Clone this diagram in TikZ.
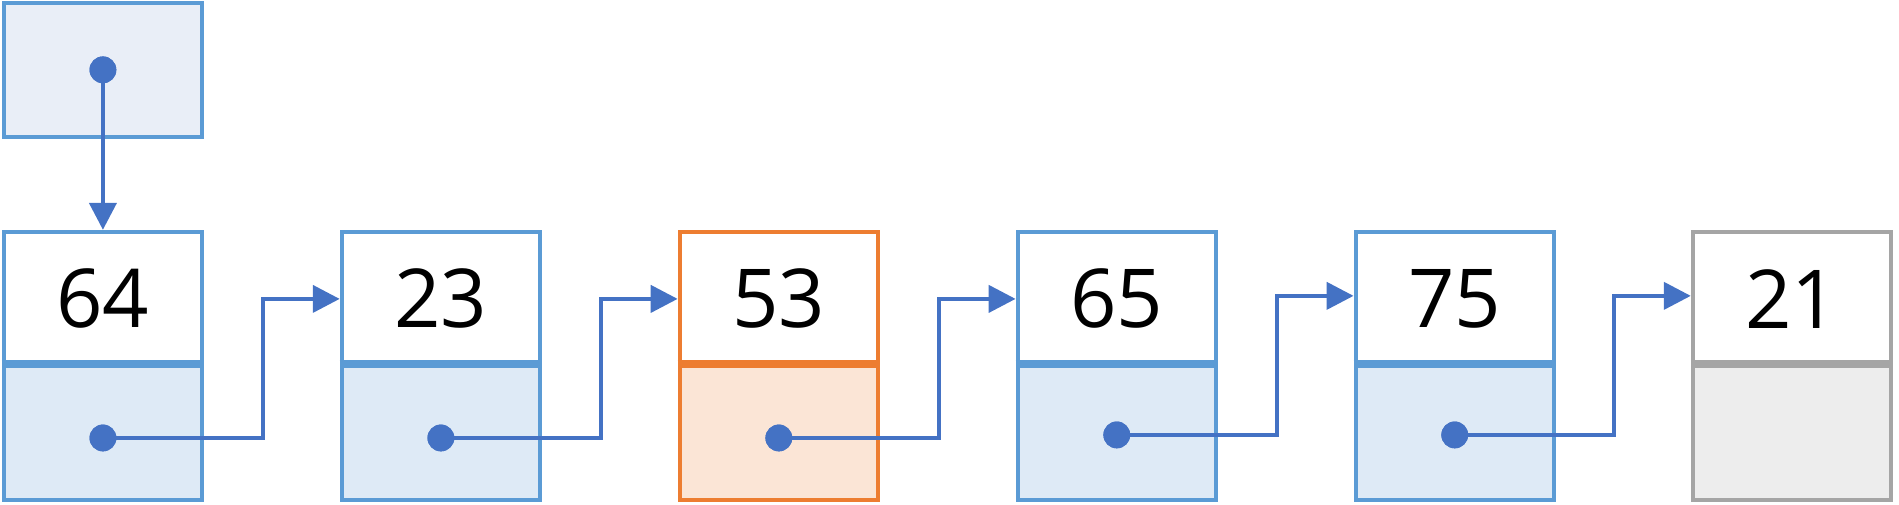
\documentclass[tikz,border=0pt]{standalone}
\usepackage{fontspec}
\setmainfont{Open Sans}
\usetikzlibrary{arrows.meta,calc}
\definecolor{bblue}{HTML}{5B9BD5}
\definecolor{bfill}{HTML}{DEEAF6}
\definecolor{hfill}{HTML}{E9EEF7}
\definecolor{oline}{HTML}{ED7D31}
\definecolor{ofill}{HTML}{FBE5D6}
\definecolor{gline}{HTML}{A5A5A5}
\definecolor{gfill}{HTML}{EDEDED}
\definecolor{conc}{HTML}{4472C4}
\begin{document}
\begin{tikzpicture}[x=0.01cm,y=-0.01cm,
  cell/.style={draw, line width=1pt, minimum width=1.627cm, minimum height=1.10cm, inner sep=0pt, anchor=center, font=\fontsize{19}{23}\selectfont},
  bluecell/.style={cell, draw=bblue},
  orangecell/.style={cell, draw=oline},
  graycell/.style={cell, draw=gline},
  dot/.style={circle, fill=conc, inner sep=0pt, minimum size=0.22cm},
  conn/.style={draw=conc, line width=1pt, -{Triangle[length=6.3pt,width=6.3pt]}},
  divider/.style={line width=1.7pt}]
\useasboundingbox (0,0) rectangle (1561,415);
% head
\node[bluecell, fill=hfill] (head) at (84.6,57.4) {};
% list nodes
\node[bluecell, fill=white] (v1) at (84.6,245.7) {64};
\node[bluecell, fill=bfill] (p1) at (84.6,355.7) {};
\node[bluecell, fill=white] (v2) at (362.4,245.7) {23};
\node[bluecell, fill=bfill] (p2) at (362.4,355.7) {};
\node[orangecell, fill=white] (v3) at (640.2,245.7) {53};
\node[orangecell, fill=ofill] (p3) at (640.2,355.7) {};
\node[bluecell, fill=white] (v4) at (918.0,245.7) {65};
\node[bluecell, fill=bfill] (p4) at (918.0,355.7) {};
\node[bluecell, fill=white] (v5) at (1195.8,245.7) {75};
\node[bluecell, fill=bfill] (p5) at (1195.8,355.7) {};
\node[graycell, fill=white] (v6) at (1473,245.7) {21};
\node[graycell, fill=gfill] (p6) at (1473,355.7) {};
% dividers
\draw[divider, bblue] (p1.north west) -- (p1.north east);
\draw[divider, bblue] (p2.north west) -- (p2.north east);
\draw[divider, oline] (p3.north west) -- (p3.north east);
\draw[divider, bblue] (p4.north west) -- (p4.north east);
\draw[divider, bblue] (p5.north west) -- (p5.north east);
\draw[divider, gline] (p6.north west) -- (p6.north east);
% head pointer
\node[dot] (d0) at (head.center) {};
\draw[conn] (d0.center) -- (v1.north);
\node[dot] at (d0) {};
% arrow targets
\coordinate (t2) at ($(v2.west)+(0,0)$);
\coordinate (t3) at ($(v3.west)+(0,0)$);
\coordinate (t4) at ($(v4.west)+(0,0)$);
\coordinate (t5) at ($(v5.west)+(0,-2.5)$);
\coordinate (t6) at ($(v6.west)+(0,-2.5)$);
% pointer dots
\node[dot] (d1) at (84.6,360) {};
\node[dot] (d2) at (362.4,360) {};
\node[dot] (d3) at (640.2,360) {};
\node[dot] (d4) at (918.0,357.5) {};
\node[dot] (d5) at (1195.8,357.5) {};
\draw[conn] (d1.center) -- ($(t2 |- d1)+(-63,0)$) |- (t2);
\draw[conn] (d2.center) -- ($(t3 |- d2)+(-63,0)$) |- (t3);
\draw[conn] (d3.center) -- ($(t4 |- d3)+(-63,0)$) |- (t4);
\draw[conn] (d4.center) -- ($(t5 |- d4)+(-63,0)$) |- (t5);
\draw[conn] (d5.center) -- ($(t6 |- d5)+(-63,0)$) |- (t6);
\node[dot] at (d1) {};
\node[dot] at (d2) {};
\node[dot] at (d3) {};
\node[dot] at (d4) {};
\node[dot] at (d5) {};
\end{tikzpicture}
\end{document}
